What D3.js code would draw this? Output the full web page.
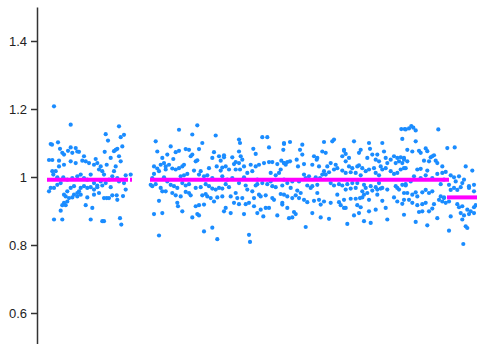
<!DOCTYPE html>
<html><head><meta charset="utf-8">
<script src="https://cdn.jsdelivr.net/npm/d3@7"></script>
<style>body{margin:0;background:#fff}svg{display:block}</style></head><body>
<svg id="c" width="477" height="344"></svg>
<script>
// [position, ratio] probes, grouped by region
const region1 = [[7,1.208],[23.7,1.154],[3.7,1.097],[5,1.095],[11,1.102],[13,1.083],[15.3,1.071],[17,1.066],[21,1.077],[23.7,1.087],[25.3,1.071],[28.7,1.085],[30.3,1.075],[32,1.074],[37,1.061],[35.3,1.048],[38.7,1.046],[42,1.041],[2,1.05],[5.3,1.05],[12,1.048],[23.7,1.046],[28.7,1.041],[12,1.031],[17,1.036],[48.7,1.053],[50.3,1.041],[47,1.036],[53.7,1.031],[52,1.022],[55.3,1.017],[57,1.007],[5.3,1.017],[8.7,1.017],[6.3,1.007],[10.3,0.999],[16.3,0.999],[20.3,0.992],[25.3,0.997],[30.3,1.002],[33.7,1.007],[37,0.997],[40.3,0.992],[43.7,1.007],[47,0.982],[50.3,0.975],[53.7,0.987],[2,0.958],[3.7,0.968],[7,0.968],[10.3,0.977],[13.7,0.982],[17,0.948],[20.3,0.958],[23.7,0.968],[27,0.973],[30.3,0.953],[33.7,0.968],[37,0.973],[40.3,0.968],[43.7,0.970],[47,0.963],[50.3,0.970],[55.3,0.975],[18.7,0.943],[22,0.938],[25.3,0.940],[27,0.948],[30.3,0.943],[33.7,0.948],[32,0.958],[40.3,0.940],[47,0.948],[52,0.953],[57,0.938],[17,0.924],[18.7,0.917],[15.3,0.917],[20.3,0.928],[38.7,0.917],[45.3,0.909],[13.7,0.901],[7,0.875],[15.3,0.875],[43.7,0.875],[55.3,0.870],
[72,1.149],[58.7,1.126],[61,1.107],[77,1.124],[73.7,1.117],[57.7,1.074],[67,1.076],[68.7,1.080],[70.3,1.083],[75.3,1.090],[63.7,1.056],[72,1.061],[73.7,1.046],[59.7,1.036],[68.7,1.031],[67,1.017],[65.3,1.002],[70.3,0.997],[78.7,1.005],[83.7,1.007],[58.7,0.982],[62,0.992],[72,0.987],[77,0.982],[78.7,0.963],[63.7,0.970],[59.7,0.938],[62,0.938],[65.3,0.946],[69.7,0.946],[70.3,0.933],[76,0.944],[57,0.870],[73,0.879],[74.3,0.860]];

const region2a = [[105.3,0.997],[107,1.009],[108.7,1.105],[110.3,1.075],[107,1.031],[110.3,1.025],[112,1.017],[113.7,1.036],[115.3,1.056],[117,1.041],[118.7,1.022],[103.7,0.977],[105.3,0.973],[108.7,0.979],[113.7,0.968],[115.3,0.958],[112,0.930],[107,0.891],[115.3,0.894],[112,0.828],
[132,1.139],[150.3,1.152],[145.3,1.125],[168.7,1.122],[155.3,1.100],[123.7,1.090],[138.7,1.082],[142,1.080],[132,1.077],[128.7,1.073],[152,1.082],[167,1.073],[172,1.061],[165.3,1.056],[120.3,1.066],[126.3,1.053],[145.3,1.066],[143.7,1.061],[148.7,1.046],[150.3,1.049],[173.7,1.048],[177,1.058],[118.7,1.031],[122,1.036],[125.3,1.025],[128.7,1.022],[132,1.026],[135.3,1.031],[137,1.036],[162,1.026],[169.7,1.031],[175.3,1.028],[173.7,1.019],[147,1.019],[153.7,1.017],[152,1.007],[133.7,1.002],[137,1.005],[140.3,1.009],[157,1.002],[160.3,1.005],[165.3,0.997],[175.3,1.002],[117,0.999],[120.3,0.987],[123.7,0.977],[127,0.973],[130.3,0.968],[135.3,0.982],[138.7,0.975],[142,0.979],[148.7,0.968],[153.7,0.970],[158.7,0.979],[162,0.973],[165.3,0.966],[168.7,0.963],[172,0.968],[175.3,0.966],[118.7,0.958],[125.3,0.953],[128.7,0.946],[133.7,0.943],[138.7,0.956],[142,0.953],[143.7,0.946],[155.3,0.946],[158.7,0.950],[160.3,0.943],[163.7,0.938],[170.3,0.940],[167,0.928],[175.3,0.943],[130.3,0.924],[131,0.914],[135.3,0.899],[148.7,0.914],[152,0.917],[157,0.919],[177,0.899],[145.3,0.881],[150.3,0.891],[152,0.887],[165.3,0.851],[157,0.840],[170.3,0.817]];

const region2b = [[192,1.110],[193,1.100],[215.3,1.117],[220.3,1.117],[222,1.087],[237,1.097],[236.3,1.080],[206.3,1.083],[192,1.075],[185.3,1.058],[193.7,1.061],[195.3,1.051],[208.7,1.068],[177,1.064],[188.7,1.044],[187,1.038],[192,1.041],[178.7,1.031],[182,1.022],[197,1.031],[203.7,1.036],[208.7,1.031],[212,1.036],[217,1.041],[222,1.044],[225.3,1.044],[230.3,1.038],[234.3,1.048],[237,1.041],[188.7,1.022],[193,1.022],[200.3,1.012],[205.3,1.017],[223.7,1.012],[228.7,1.005],[233.7,1.022],[232,1.012],[180.3,0.992],[185.3,0.997],[197,0.999],[210.3,0.992],[215.3,0.982],[223.7,0.987],[237,0.992],[178.7,0.979],[182,0.970],[192,0.982],[198.7,0.975],[208.7,0.975],[210.3,0.979],[220.3,0.979],[225.3,0.973],[228.7,0.970],[235.3,0.975],[183.7,0.943],[188.7,0.953],[190.3,0.938],[195.3,0.938],[200.3,0.963],[205.3,0.958],[207,0.938],[212,0.948],[213.7,0.943],[218.7,0.946],[225.3,0.938],[227,0.933],[233.7,0.950],[235.3,0.924],[178.7,0.909],[183.7,0.894],[187,0.924],[192,0.920],[198.7,0.920],[202,0.924],[207,0.914],[210.3,0.894],[213.7,0.904],[218.7,0.909],[222,0.909],[230.3,0.887],[235.3,0.919],[197,0.891],[216.3,0.884],[202,0.830],[203,0.809],
[243,1.103],[237,1.100],[255.3,1.095],[277,1.103],[287,1.110],[285.3,1.105],[297,1.077],[253,1.080],[255.3,1.066],[267,1.061],[275.3,1.075],[278.7,1.071],[295.3,1.061],[237,1.041],[240.3,1.044],[243,1.046],[238.7,1.036],[249.7,1.051],[251,1.031],[257,1.038],[265.3,1.036],[269.7,1.051],[272,1.031],[280.3,1.031],[283.7,1.041],[288.7,1.036],[290.3,1.026],[270.3,1.056],[277,1.017],[275.3,1.007],[282,1.014],[278.7,1.007],[287,1.022],[295.3,1.019],[273,0.997],[268.7,0.999],[258.7,0.997],[262,1.002],[257,1.007],[240.3,0.982],[245.3,0.987],[252,0.987],[260.3,0.975],[265.3,0.973],[270.3,0.977],[283.7,0.982],[287,0.975],[292,0.979],[295.3,0.975],[243.7,0.968],[250.3,0.960],[253.7,0.953],[263.7,0.968],[270.3,0.953],[290.3,0.948],[237,0.948],[240.3,0.943],[245.3,0.938],[248.7,0.946],[252,0.938],[257,0.933],[260.3,0.926],[267,0.930],[272,0.933],[277,0.928],[273.7,0.919],[283.7,0.924],[292,0.926],[293.7,0.917],[297,0.909],[240.3,0.909],[247,0.897],[248.7,0.891],[265.3,0.894],[242,0.879],[245.3,0.881],[273.7,0.881],[282,0.877],[258.7,0.853]];

const region2c = [[354.3,1.141],[357.7,1.141],[355.3,1.112],[307,1.105],[322,1.100],[335.3,1.100],[323,1.083],[313.7,1.080],[312,1.071],[330.3,1.066],[337,1.075],[325.3,1.066],[320.3,1.056],[328.7,1.051],[332,1.046],[297,1.080],[298.7,1.068],[302,1.056],[298.7,1.046],[338.7,1.056],[343.7,1.051],[347,1.061],[350.3,1.056],[353.7,1.058],[357,1.051],[340.3,1.041],[348.7,1.041],[352,1.046],[355.3,1.041],[302,1.031],[305.3,1.026],[310.3,1.031],[312,1.034],[315.3,1.026],[318.7,1.017],[322,1.022],[327,1.026],[333.7,1.031],[335.3,1.022],[338.7,1.026],[298.7,1.012],[303.7,1.014],[308.7,1.012],[313.7,1.005],[328.7,1.012],[332,1.005],[343.7,1.017],[347,1.009],[350.3,1.012],[353.7,1.022],[357,1.026],[300.3,0.979],[305.3,0.982],[310.3,0.982],[317,0.977],[318.7,0.968],[323.7,0.973],[328.7,0.970],[332,0.982],[335.3,0.968],[348.7,0.973],[350.3,0.968],[355.3,0.977],[358.7,0.975],[298.7,0.963],[303.7,0.966],[308.7,0.968],[315.3,0.958],[317,0.948],[320.3,0.953],[325.3,0.960],[330.3,0.963],[333.7,0.966],[340.3,0.963],[352,0.963],[357,0.953],[297,0.933],[303.7,0.936],[308.7,0.936],[313,0.938],[315.3,0.940],[322,0.933],[330.3,0.948],[347,0.940],[335.3,0.930],[350.3,0.928],[298.7,0.909],[310.3,0.917],[313.7,0.911],[322,0.899],[328.7,0.904],[338.7,0.909],[355.3,0.921],[357,0.889],[307,0.887],[312,0.894],[300.3,0.862],[317,0.870],[323.7,0.865],[340.3,0.875]];

const region3 = [[358.7,1.140],[362,1.143],[364.3,1.150],[366.3,1.145],[368.7,1.137],[391.3,1.140],[368.7,1.105],[360.3,1.080],[365.3,1.075],[372,1.077],[373.7,1.071],[378.7,1.084],[380.3,1.076],[400.3,1.085],[407.7,1.087],[383.7,1.058],[385.3,1.061],[387,1.064],[357,1.056],[360.3,1.046],[377,1.048],[382,1.046],[388.7,1.048],[390.3,1.041],[395.3,1.031],[418.7,1.031],[425.3,1.019],[358.7,1.026],[370.3,1.022],[373.7,1.024],[380.3,1.019],[390.3,1.009],[395.3,1.012],[398.7,1.015],[403.7,1.005],[407,0.999],[412,1.002],[358.7,0.979],[363.7,0.987],[367,1.002],[373.7,0.997],[378.7,1.005],[385.3,0.997],[393.7,0.979],[397,0.992],[402,0.977],[408.7,0.987],[415.3,0.982],[417,0.992],[422,0.973],[427,0.977],[360.3,0.953],[365.3,0.948],[368.7,0.955],[370.3,0.943],[375.3,0.955],[378.7,0.962],[382,0.953],[385.3,0.958],[393.7,0.943],[397,0.940],[403.7,0.962],[407,0.968],[410.3,0.962],[413.7,0.970],[422,0.968],[427,0.958],[357,0.933],[362,0.933],[365.3,0.924],[370.3,0.917],[375.3,0.920],[378.7,0.924],[387,0.920],[392,0.933],[395.3,0.928],[397,0.938],[398.7,0.924],[402,0.928],[410.3,0.920],[412,0.911],[415.3,0.914],[420.3,0.904],[423.7,0.899],[427,0.911],[428.7,0.917],[372,0.897],[375.3,0.899],[382,0.899],[385.3,0.907],[390.3,0.879],[403.7,0.884],[413.7,0.894],[417,0.887],[422,0.891],[427,0.894],[368.7,0.868],[380.3,0.858],[402,0.842],[415.3,0.875],[418.7,0.855],[420.3,0.850],[416.3,0.803]];

// segment means
const segStart = [0, 83, 103, 400];
const segEnd   = [81, 85, 402, 430];
const segValue = [0.992, 0.992, 0.992, 0.940];

const yTickValues = [0.6, 0.8, 1, 1.2, 1.4];
const yTickLabels = ["0.6", "0.8", "1", "1.2", "1.4"];

const svg = d3.select("#c");
const x = d3.scaleLinear().domain([0, 430]).range([47, 477]);
const y = d3.scaleLinear().domain([0.5, 1.5]).range([347, 7]);

const points = [].concat(region1, region2a, region2b, region2c, region3);

svg.append("g").selectAll("circle").data(points).join("circle")
  .attr("cx", d => x(d[0])).attr("cy", d => y(d[1]))
  .attr("r", 2.1).attr("fill", "#1a8cff");

const segs = segStart.map((s, i) => ({s, e: segEnd[i], v: segValue[i]}));
svg.append("g").selectAll("line").data(segs).join("line")
  .attr("x1", d => x(d.s)).attr("x2", d => x(d.e))
  .attr("y1", d => y(d.v)).attr("y2", d => y(d.v))
  .attr("stroke", "#ff00ff").attr("stroke-width", 4);

const ax = svg.append("g").attr("transform", "translate(37,0)")
  .call(d3.axisLeft(y).tickValues(yTickValues).tickFormat((d, i) => yTickLabels[i])
    .tickSize(6).tickSizeOuter(0).tickPadding(4));
ax.select(".domain").attr("stroke", "#333").attr("stroke-width", 1.5);
ax.selectAll(".tick line").attr("stroke", "#333").attr("stroke-width", 1.5);
ax.selectAll(".tick text").attr("fill", "#222")
  .style("font-family", "'Liberation Sans', Arial, Helvetica, sans-serif").style("font-size", "13px");
</script>
</body></html>
